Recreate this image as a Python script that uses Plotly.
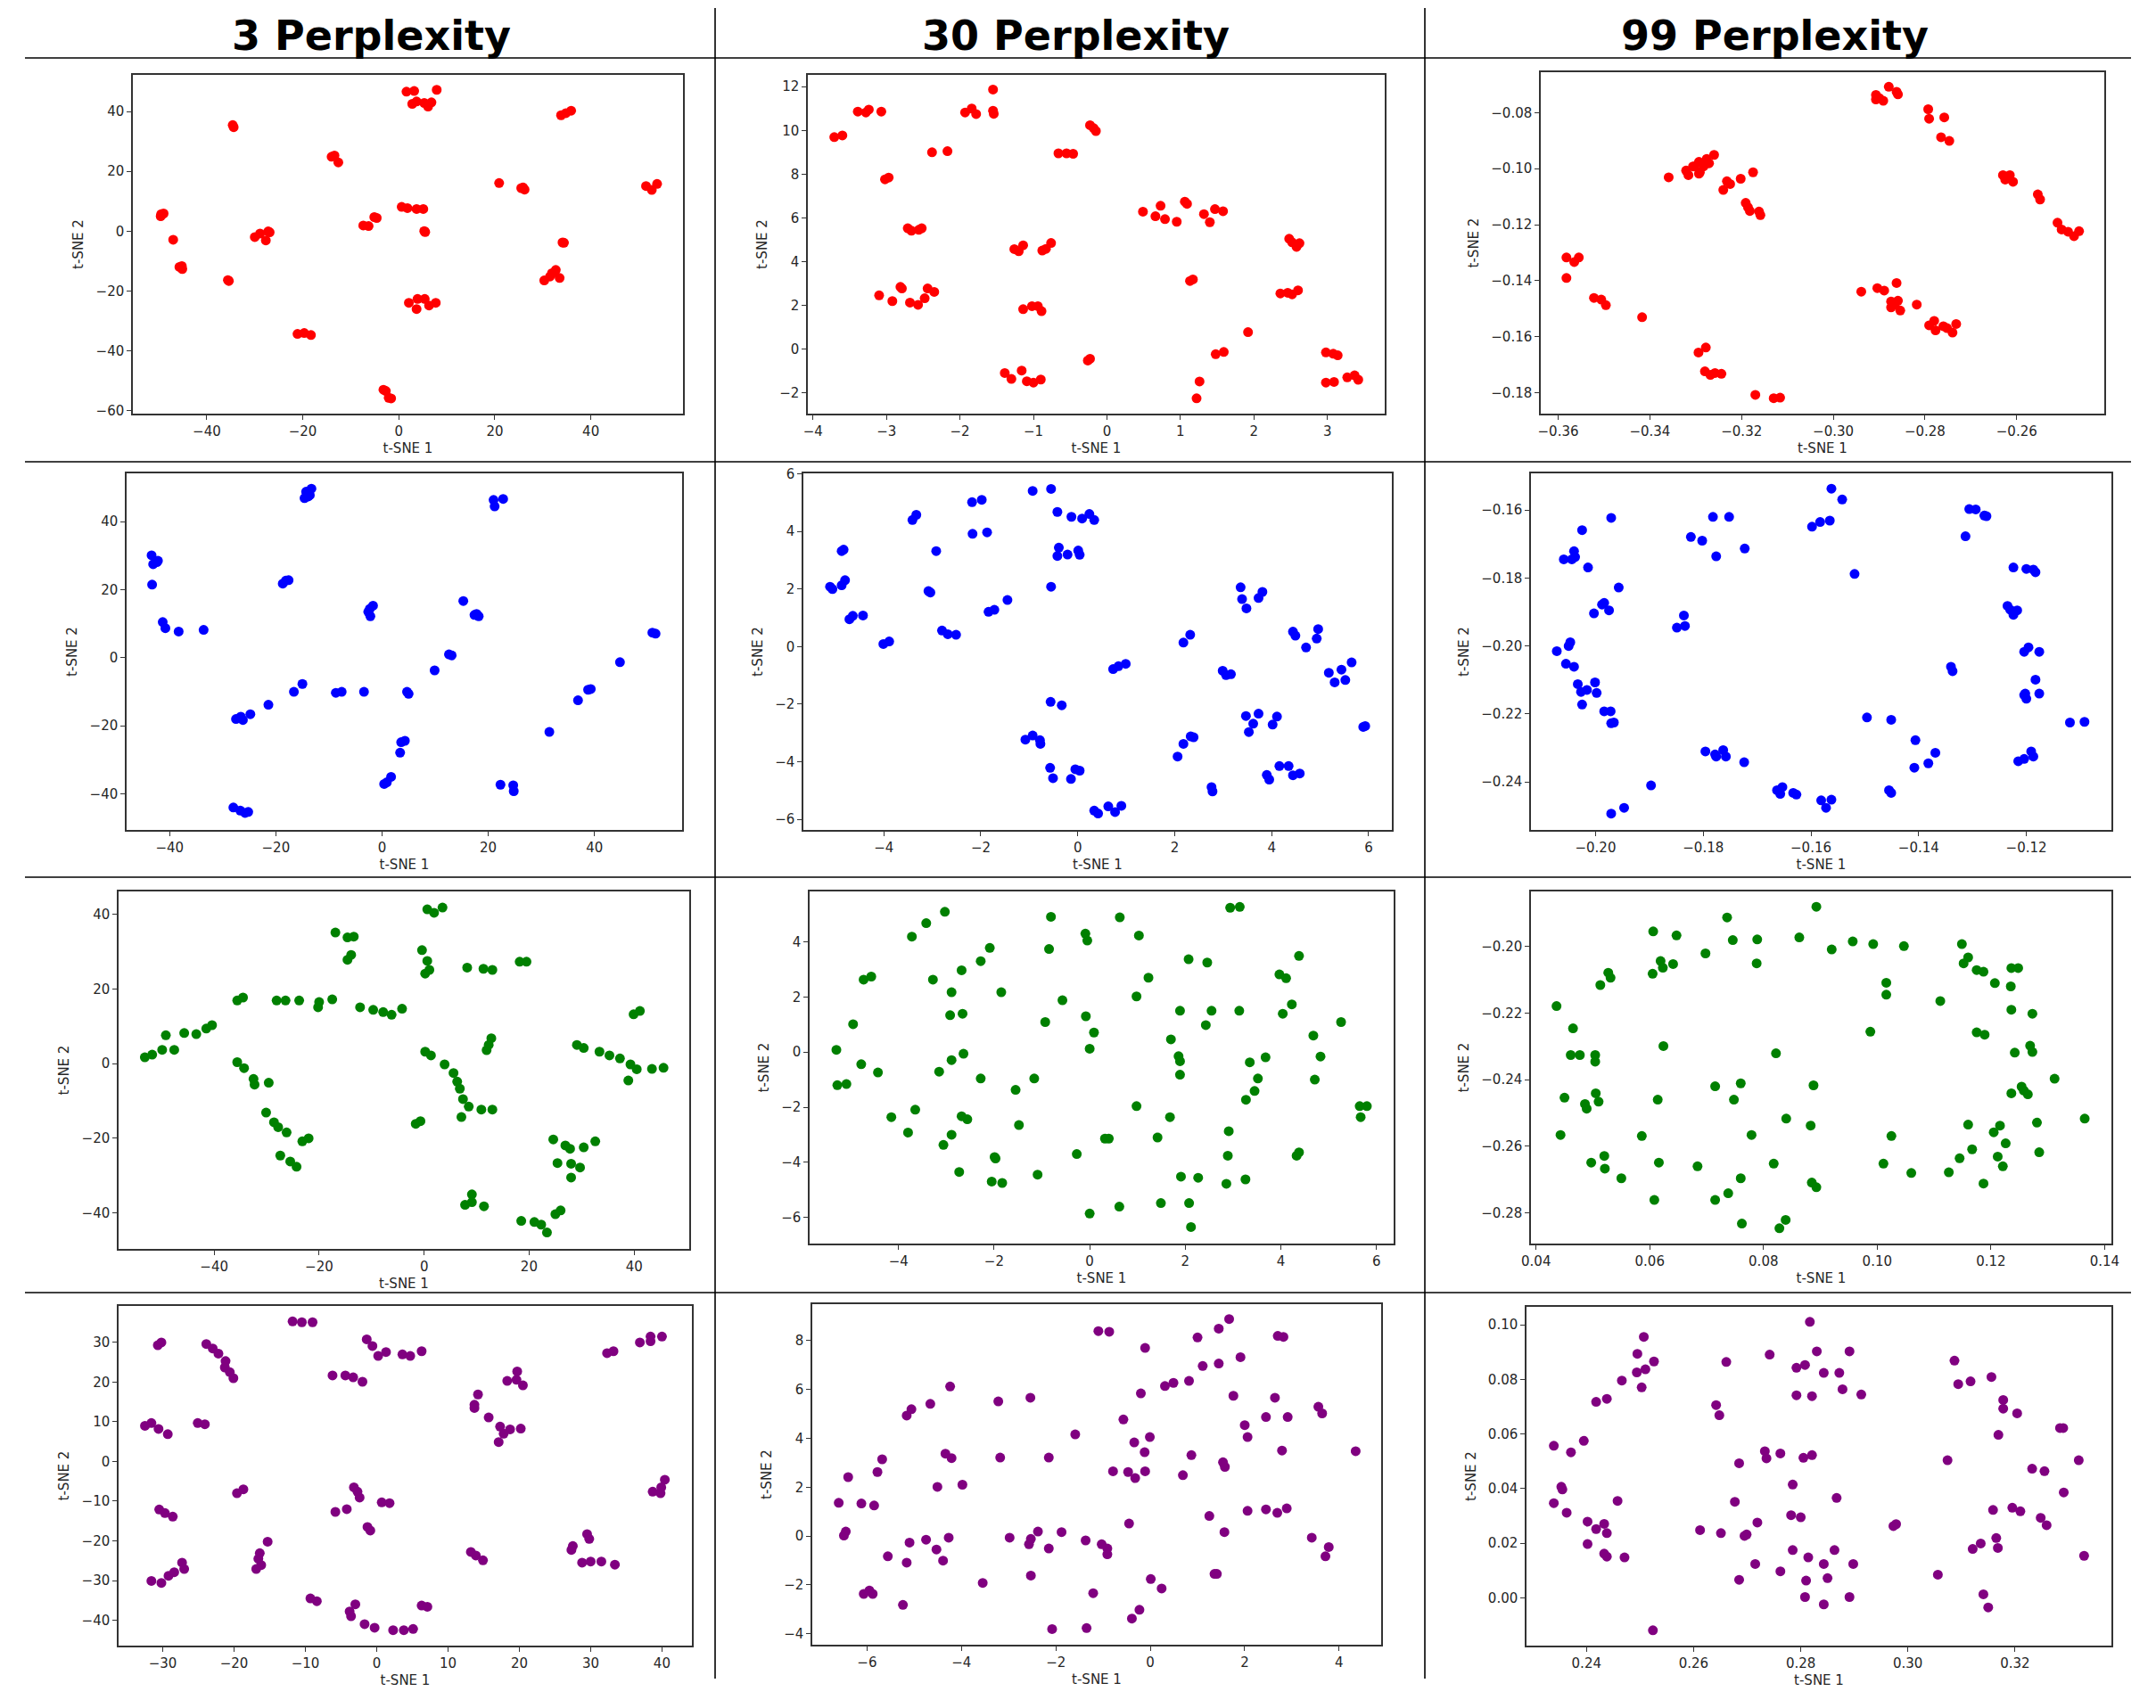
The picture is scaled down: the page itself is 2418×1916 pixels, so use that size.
import plotly.graph_objects as go

# ---------------- data ----------------
col_titles = ["3 Perplexity", "30 Perplexity", "99 Perplexity"]
x_label = "t-SNE 1"
y_label = "t-SNE 2"

red_p3_x = [1.6, 3.2, 7.9, 2.8, 3.7, 5.3, 6.1, 6.8, 33.8, 34.8, 35.9, -34.6, -34.4, -14.0, -13.4, -12.6, 20.9,
            25.5, 26.2, 25.9, 51.5, 52.7, 53.8, -49.5, -49.0, -49.6, -47.0, -45.7, -45.2, -45.1, -35.6, -35.4,
            -30.0, -28.9, -27.2, -27.7, -26.9, 0.6, 1.8, 3.7, 5.1, 5.3, 5.5, -7.4, -6.3, -5.1, -4.6, 34.4, 34.1,
            30.3, 31.5, 32.7, 33.5, 31.9, 2.1, 3.9, 5.4, 3.7, 6.3, 7.7, -21.1, -19.7, -18.3, -3.2, -2.1, -2.7, -1.6]
red_p3_y = [46.7, 46.9, 47.3, 42.6, 43.4, 42.9, 41.7, 43.1, 38.8, 39.5, 40.3, 35.5, 34.8, 24.9, 25.3, 23.0, 16.1,
            14.4, 13.9, 14.6, 15.1, 13.8, 15.8, 5.7, 5.9, 5.0, -2.9, -12.0, -11.7, -12.7, -16.4, -16.7,
            -2.0, -0.8, -0.1, -3.1, -0.4, 8.1, 7.7, 7.4, 7.4, 0.0, -0.3, 1.9, 1.7, 4.7, 4.4, -3.9, -3.8,
            -16.5, -15.2, -13.0, -15.7, -14.1, -24.0, -22.7, -22.7, -26.1, -24.9, -24.0, -34.4, -34.1, -34.8,
            -53.1, -55.8, -53.5, -56.0]

red_p30_x = [-3.71, -3.60, -3.39, -3.28, -3.24, -3.07, -1.55, -1.93, -1.84, -1.78, -1.55, -1.54, -0.23, -0.18, -0.15,
             -2.38, -2.17, -0.66, -0.55, -0.46, -3.02, -2.97, -2.71, -2.66, -2.52, -2.56, -1.26, -1.20, -1.14, -0.88,
             -0.83, -0.76, 0.49, 0.66, 0.73, 0.79, 0.95, 1.06, 1.09, 1.32, 1.40, 1.47, 1.58, 2.48, 2.52, 2.58, 2.62,
             1.13, 1.17, 2.36, 2.46, 2.52, 2.60, -2.81, -2.79, -3.10, -2.92, -2.68, -2.57, -2.48, -2.44, -2.35,
             -1.14, -1.02, -0.94, -0.89, 1.92, -0.26, -0.23, 1.48, 1.59, 2.98, 3.08, 3.14, -1.39, -1.30, -1.16,
             -1.09, -1.00, -0.90, 1.26, 1.22, 2.98, 3.09, 3.27, 3.37, 3.42]
red_p30_y = [9.69, 9.77, 10.86, 10.82, 10.95, 10.86, 11.87, 10.82, 11.00, 10.75, 10.90, 10.76, 10.24, 10.10, 9.97,
             9.00, 9.05, 8.95, 8.95, 8.93, 7.76, 7.84, 5.52, 5.41, 5.52, 5.45, 4.57, 4.47, 4.74, 4.50,
             4.58, 4.85, 6.28, 6.07, 6.55, 5.94, 5.82, 6.74, 6.64, 6.17, 5.80, 6.40, 6.30, 5.04, 4.88, 4.67, 4.84,
             3.11, 3.18, 2.54, 2.57, 2.50, 2.68, 2.84, 2.77, 2.45, 2.19, 2.12, 2.02, 2.32, 2.77, 2.61,
             1.82, 1.96, 1.96, 1.73, 0.77, -0.53, -0.45, -0.24, -0.14, -0.16, -0.22, -0.29, -1.10, -1.37, -0.99,
             -1.48, -1.54, -1.40, -1.49, -2.26, -1.54, -1.51, -1.30, -1.21, -1.41]

red_p99_x = [-0.2907, -0.2900, -0.2891, -0.2879, -0.2862, -0.2859, -0.2907, -0.2793, -0.2791, -0.2758, -0.2765,
             -0.2747, -0.2630, -0.2620, -0.2608, -0.2615, -0.2625, -0.2554, -0.2549, -0.2511, -0.2502, -0.2488,
             -0.2475, -0.2464, -0.3359, -0.3321, -0.3316, -0.3306, -0.3293, -0.3291, -0.3283, -0.3276, -0.3271,
             -0.3260, -0.3293, -0.3303, -0.3240, -0.3232, -0.3225, -0.3202, -0.3175, -0.3191, -0.3186, -0.3182,
             -0.3162, -0.3159, -0.3582, -0.3565, -0.3555, -0.3582, -0.3522, -0.3506, -0.3496, -0.3417, -0.3294,
             -0.3278, -0.3280, -0.3268, -0.3258, -0.3244, -0.3170, -0.3130, -0.3116, -0.2939, -0.2904, -0.2889,
             -0.2862, -0.2874, -0.2874, -0.2859, -0.2854, -0.2866, -0.2818, -0.2791, -0.2780, -0.2777, -0.2760,
             -0.2740, -0.2732, -0.2752]
red_p99_y = [-0.0737, -0.0748, -0.0758, -0.0708, -0.0726, -0.0735, -0.0753, -0.0788, -0.0822, -0.0817, -0.0888,
             -0.0901, -0.1023, -0.1034, -0.1047, -0.1023, -0.1039, -0.1092, -0.1110, -0.1193, -0.1217, -0.1225,
             -0.1241, -0.1223, -0.1031, -0.1007, -0.1023, -0.0992, -0.0976, -0.1013, -0.0992, -0.0965, -0.0981,
             -0.0951, -0.1018, -0.0992, -0.1076, -0.1045, -0.1055, -0.1036, -0.1013, -0.1122, -0.1138, -0.1151,
             -0.1153, -0.1166, -0.1317, -0.1333, -0.1317, -0.1390, -0.1461, -0.1467, -0.1487, -0.1530, -0.1656,
             -0.1638, -0.1723, -0.1736, -0.1729, -0.1732, -0.1807, -0.1819, -0.1817, -0.1439, -0.1426, -0.1435,
             -0.1408, -0.1474, -0.1495, -0.1471, -0.1506, -0.1485, -0.1485, -0.1559, -0.1543, -0.1577, -0.1562,
             -0.1585, -0.1554, -0.1569]

blue_p3_x = [-14.6, -14.3, -13.6, -13.3, -13.9, 21.0, 21.2, 22.8, -43.4, -43.1, -42.4, -42.2, -43.3, -41.3, -40.8,
             -38.3, -33.6, -18.7, -18.1, -17.6, -2.6, -2.2, -1.7, -2.3, 15.3, 17.4, 18.2, 17.8, 50.9, 51.5, 12.6,
             13.1, 9.9, 44.8, 36.9, 38.8, 39.3, 31.5, -15.0, -16.6, -8.7, -7.6, -3.4, 4.7, 5.0, -21.4, -27.5, -26.6,
             -26.2, -24.8, 3.6, 4.3, 3.4, 0.4, 0.9, 1.7, 22.3, 24.7, 24.8, -28.0, -26.7, -25.8, -25.2]
blue_p3_y = [46.9, 48.8, 47.8, 49.7, 47.4, 46.4, 44.5, 46.7, 30.1, 27.5, 28.1, 28.5, 21.5, 10.5, 8.7,
             7.7, 8.2, 21.8, 22.7, 22.8, 13.5, 12.2, 15.3, 14.4, 16.7, 12.6, 12.2, 12.9, 7.4, 7.1, 1.0,
             0.7, -3.7, -1.3, -12.5, -9.4, -9.2, -21.8, -7.7, -10.0, -10.3, -10.0, -10.0, -10.0, -10.6, -13.8, -18.0,
             -17.3, -18.3, -16.6, -24.8, -24.4, -27.9, -37.1, -36.6, -35.0, -37.3, -37.5, -39.2, -44.0, -44.9,
             -45.6, -45.3]

blue_p30_x = [-5.11, -5.06, -4.87, -4.80, -4.87, -4.83, -4.71, -4.64, -4.43, -4.01, -3.89, -3.41, -3.33, -2.92,
              -3.08, -3.04, -2.80, -2.68, -2.51, -2.18, -1.98, -2.17, -1.87, -1.84, -1.72, -1.45, -0.93, -0.55,
              -0.42, -0.13, 0.09, 0.24, 0.34, -0.39, -0.42, -0.21, 0.01, 0.04, -0.55, 0.73, 0.84, 0.99, 2.18, 2.32,
              3.36, 3.39, 3.48, 3.73, 3.81, 4.44, 4.49, 4.71, 4.93, 4.96, 2.99, 3.06, 3.16, 5.18, 5.44, 5.65, 5.30,
              5.52, -0.56, -0.33, -1.08, -0.93, -0.78, -0.77, -0.57, -0.51, -0.14, -0.05, 0.04, 0.34, 0.42, 0.63,
              0.77, 0.90, 2.06, 2.18, 2.33, 2.39, 2.76, 2.78, 3.47, 3.53, 3.62, 3.73, 4.02, 4.11, 3.90, 3.95, 4.16,
              4.35, 4.44, 4.58, 5.89, 5.93]
blue_p30_y = [2.08, 2.00, 2.13, 2.31, 3.32, 3.37, 0.95, 1.07, 1.08, 0.09, 0.18, 4.40, 4.58, 3.32,
              1.93, 1.88, 0.56, 0.43, 0.41, 5.02, 5.10, 3.92, 3.97, 1.21, 1.28, 1.62, 5.41, 5.48,
              4.68, 4.51, 4.45, 4.61, 4.40, 3.44, 3.15, 3.20, 3.34, 3.19, 2.08, -0.78, -0.68, -0.60, 0.14, 0.41,
              2.06, 1.65, 1.33, 1.69, 1.90, 0.52, 0.38, -0.03, 0.28, 0.61, -0.84, -0.99, -0.96, -0.91, -0.80, -0.55,
              -1.24, -1.16, -1.92, -2.04, -3.23, -3.09, -3.25, -3.38, -4.21, -4.57, -4.60, -4.26, -4.31, -5.70,
              -5.80, -5.55, -5.75, -5.53, -3.82, -3.38, -3.12, -3.15, -4.88, -5.03, -2.41, -2.97, -2.68, -2.33,
              -2.71, -2.43, -4.46, -4.62, -4.15, -4.15, -4.47, -4.41, -2.79, -2.76]

blue_p99_x = [-0.1562, -0.1542, -0.1598, -0.1583, -0.1565, -0.1519, -0.1306, -0.1294, -0.1278, -0.1274, -0.1313,
              -0.1224, -0.1200, -0.1187, -0.1183, -0.1235, -0.1230, -0.1224, -0.1217, -0.1204, -0.1196, -0.1176,
              -0.1183, -0.1176, -0.1204, -0.1200, -0.1202, -0.1119, -0.1092, -0.1340, -0.1337, -0.1496, -0.1451,
              -0.1406, -0.1369, -0.1382, -0.1408, -0.1215, -0.1204, -0.1191, -0.1187, -0.1455, -0.1451, -0.1581,
              -0.1572, -0.1562, -0.1663, -0.1657, -0.1653, -0.1633, -0.1627, -0.1724, -0.1796, -0.1778, -0.1763,
              -0.1758, -0.1776, -0.1897, -0.1971, -0.1947, -0.1782, -0.1752, -0.1823, -0.1802, -0.1776, -0.1723,
              -0.1836, -0.1849, -0.1834, -0.1971, -0.2025, -0.2059, -0.2044, -0.2040, -0.2038, -0.2014, -0.1957,
              -0.2003, -0.1988, -0.1984, -0.1975, -0.2072, -0.2050, -0.2047, -0.2055, -0.2040, -0.2033, -0.2027,
              -0.2016, -0.2001, -0.1998, -0.2025, -0.1984, -0.1972, -0.1971, -0.1966]
blue_p99_y = [-0.1537, -0.1569, -0.1649, -0.1635, -0.1631, -0.1788, -0.1597, -0.1598, -0.1616, -0.1618, -0.1677,
              -0.1769, -0.1773, -0.1775, -0.1783, -0.1882, -0.1893, -0.1908, -0.1895, -0.2017, -0.2004, -0.2017,
              -0.2099, -0.2140, -0.2144, -0.2155, -0.2140, -0.2225, -0.2223, -0.2061, -0.2074, -0.2210, -0.2217,
              -0.2277, -0.2314, -0.2345, -0.2358, -0.2339, -0.2332, -0.2310, -0.2325, -0.2424, -0.2432, -0.2454,
              -0.2476, -0.2452, -0.2424, -0.2435, -0.2415, -0.2432, -0.2437, -0.2342, -0.2310, -0.2319, -0.2306,
              -0.2325, -0.2325, -0.2410, -0.2493, -0.2476, -0.1620, -0.1620, -0.1679, -0.1690, -0.1736, -0.1713,
              -0.1910, -0.1946, -0.1941, -0.1623, -0.1659, -0.1745, -0.1745, -0.1721, -0.1738, -0.1769, -0.1828,
              -0.1904, -0.1878, -0.1873, -0.1895, -0.2015, -0.2000, -0.1989, -0.2052, -0.2061, -0.2112, -0.2135,
              -0.2129, -0.2107, -0.2138, -0.2172, -0.2192, -0.2192, -0.2227, -0.2225]

green_p3_x = [0.6, 1.9, 3.5, -16.9, -14.6, -13.4, -14.6, -13.9, -0.4, 0.6, 1.0, 0.2, 8.2, 11.3, 13.0, 18.2, 19.5,
              -35.6, -34.5, -28.1, -26.4, -23.8, -20.2, -20.0, -17.5, -12.2, -9.7, -7.8, -6.2, -4.2, -53.2, -51.8,
              -49.9, -47.6, -49.2, -45.7, -43.4, -41.5, -40.4, -35.6, -34.3, -32.5, -32.3, -29.6, -30.1, -28.6,
              -27.8, -26.2, -23.2, -22.0, -27.4, -25.5, -24.3, 0.2, 1.3, 3.9, 5.6, 6.3, 6.8, 7.4, 8.5, 7.1, 10.9,
              13.0, 11.9, 12.3, 12.8, -1.6, -0.7, 39.9, 41.1, 29.1, 30.4, 33.4, 35.3, 37.3, 39.3, 40.5, 43.4, 45.6,
              38.9, 24.6, 26.9, 27.8, 30.4, 32.6, 25.4, 28.0, 29.7, 28.0, 9.1, 7.8, 9.1, 11.4, 18.5, 21.0, 22.3,
              23.4, 25.0, 26.0]
green_p3_y = [41.3, 40.4, 41.8, 35.1, 33.8, 34.0, 27.8, 29.1, 30.4, 27.5, 25.1, 24.1, 25.7, 25.4, 25.1, 27.3, 27.3,
              16.9, 17.7, 16.9, 16.9, 16.9, 15.1, 16.5, 17.2, 15.1, 14.4, 13.8, 13.1, 14.7, 1.7, 2.4,
              3.7, 3.7, 7.6, 8.2, 7.9, 9.4, 10.3, 0.4, -1.2, -4.1, -5.6, -5.1, -13.1, -15.7,
              -17.0, -18.4, -20.8, -20.0, -24.6, -26.2, -27.6, 3.2, 2.2, -0.2, -2.5, -4.8, -6.7, -9.5, -11.5, -14.3,
              -12.3, -12.3, 3.6, 5.0, 6.8, -16.1, -15.4, 13.2, 14.1, 5.0, 4.2, 3.2, 2.2, 1.4, -0.2, -1.5, -1.4,
              -1.1, -4.5, -20.3, -21.9, -22.8, -22.4, -20.8, -26.6, -26.8, -27.8, -30.5, -35.0, -37.8, -37.1, -38.2,
              -42.1, -42.4, -43.1, -45.2, -40.3, -39.3]

green_p30_x = [-3.03, -3.42, -3.72, -0.81, 0.63, 2.94, 3.14, -0.09, -0.05, 1.03, -2.09, -2.28, -2.68, -0.85, 2.07,
               2.46, 4.38, -4.73, -4.57, -3.28, 1.23, 3.97, 4.11, -2.89, -1.85, -0.57, 0.98, 1.89, 2.55, 3.13, 4.23,
               4.04, -2.92, -2.66, -0.08, -4.95, -0.93, 2.43, 5.26, 0.09, 4.68, 1.70, -5.30, 0.00, -2.64, -2.89,
               1.86, 1.89, 3.68, 3.35, 4.83, -4.78, -4.43, -3.15, -2.28, -1.16, 1.89, 3.52, 4.71, -5.28, -5.09,
               -1.55, 3.45, 3.27, 0.98, 5.65, 5.80, 5.67, -3.65, -4.15, -2.68, -2.56, -1.48, 1.68, -3.80, -2.89,
               2.91, 0.32, 0.40, 1.42, -3.06, -0.27, -1.99, -1.97, 2.89, 4.33, 4.38, -2.73, -1.09, -2.05, -1.83,
               1.91, 2.27, 2.86, 3.26, 0.62, 1.49, 2.08, 0.00, 2.12]
green_p30_y = [5.09, 4.68, 4.19, 4.91, 4.89, 5.24, 5.27, 4.30, 4.05, 4.23, 3.78, 3.30, 2.97, 3.74, 3.37,
               3.25, 3.49, 2.63, 2.74, 2.63, 2.70, 2.82, 2.68, 2.17, 2.17, 1.88, 2.02, 1.50, 1.50, 1.50, 1.73,
               1.39, 1.34, 1.39, 1.30, 1.01, 1.09, 0.98, 1.09, 0.71, 0.60, 0.46, 0.08, 0.12, -0.06, -0.29,
               -0.15, -0.33, -0.19, -0.37, -0.16, -0.44, -0.74, -0.71, -0.96, -0.96, -0.82, -0.96, -1.00, -1.20,
               -1.16, -1.37, -1.41, -1.73, -1.96, -1.96, -1.96, -2.36, -2.09, -2.36, -2.33, -2.44, -2.65, -2.36,
               -2.92, -3.00, -2.87, -3.14, -3.14, -3.10, -3.37, -3.70, -3.81, -3.86, -3.76, -3.76, -3.64, -4.35,
               -4.45, -4.70, -4.75, -4.52, -4.56, -4.78, -4.62, -5.61, -5.48, -5.48, -5.86, -6.35]

green_p99_x = [0.0893, 0.0736, 0.0606, 0.0647, 0.0746, 0.0789, 0.0863, 0.0698, 0.0920, 0.0957, 0.0993, 0.1047,
               0.0619, 0.0623, 0.0641, 0.0788, 0.0605, 0.0527, 0.0531, 0.0513, 0.1149, 0.1160, 0.1152, 0.1175,
               0.1187, 0.1207, 0.1236, 0.1248, 0.1235, 0.1016, 0.1016, 0.1111, 0.0436, 0.0465, 0.0988, 0.1236,
               0.1273, 0.1175, 0.1189, 0.0624, 0.0461, 0.0477, 0.0504, 0.0504, 0.0822, 0.1242, 0.1269, 0.1273,
               0.1312, 0.0715, 0.0760, 0.0888, 0.1236, 0.1254, 0.1258, 0.1265, 0.0450, 0.0486, 0.0489, 0.0505,
               0.0510, 0.0614, 0.0748, 0.0840, 0.0883, 0.1160, 0.1216, 0.1205, 0.1281, 0.1365, 0.0443, 0.0586,
               0.0779, 0.1025, 0.1226, 0.1285, 0.1167, 0.0520, 0.0497, 0.0521, 0.1145, 0.1212, 0.1221, 0.0616,
               0.0684, 0.0818, 0.1011, 0.1060, 0.1126, 0.0550, 0.0760, 0.0885, 0.0893, 0.1187, 0.0608, 0.0715,
               0.0738, 0.0762, 0.0828, 0.0839]
green_p99_y = [-0.1881, -0.1913, -0.1955, -0.1967, -0.1981, -0.1979, -0.1973, -0.2021, -0.2009, -0.1985, -0.1993,
               -0.1999, -0.2044, -0.2064, -0.2053, -0.2051, -0.2082, -0.2079, -0.2094, -0.2116, -0.1993, -0.2033,
               -0.2051, -0.2071, -0.2076, -0.2110, -0.2065, -0.2065, -0.2120, -0.2109, -0.2145, -0.2164, -0.2179,
               -0.2246, -0.2256, -0.2190, -0.2202, -0.2258, -0.2265, -0.2299, -0.2326, -0.2326, -0.2326, -0.2346,
               -0.2321, -0.2319, -0.2298, -0.2317, -0.2397, -0.2420, -0.2411, -0.2417, -0.2441, -0.2421, -0.2433,
               -0.2444, -0.2454, -0.2473, -0.2487, -0.2441, -0.2466, -0.2460, -0.2460, -0.2517, -0.2538, -0.2535,
               -0.2538, -0.2558, -0.2529, -0.2517, -0.2566, -0.2569, -0.2566, -0.2569, -0.2591, -0.2618, -0.2609,
               -0.2629, -0.2649, -0.2667, -0.2636, -0.2631, -0.2660, -0.2649, -0.2660, -0.2652, -0.2652, -0.2680,
               -0.2678, -0.2696, -0.2696, -0.2709, -0.2723, -0.2712, -0.2761, -0.2761, -0.2741, -0.2832, -0.2846,
               -0.2821]

purple_p3_x = [-11.8, -10.5, -9.0, -30.7, -30.2, -23.9, -23.0, -22.2, -21.2, -21.3, -20.6, -20.1, -1.4, -0.6, 0.2,
               1.3, 3.6, 4.7, 6.3, -6.2, -4.4, -3.3, -2.0, 32.3, 33.2, 36.9, 38.4, 38.4, 40.0, 18.3, 19.6, 19.7,
               20.5, 14.2, 13.7, 13.7, 15.7, 17.3, 18.7, 20.2, 17.8, 17.1, -32.5, -31.6, -30.6, -29.3, -25.1, -24.1,
               -19.6, -18.7, -3.2, -2.7, -2.4, 0.7, 1.8, -5.8, -4.2, -1.3, -0.9, -30.5, -29.7, -28.6, -15.3, -16.4,
               -16.6, -16.2, -16.9, -27.3, -27.0, -28.4, -29.2, -31.6, -30.2, 13.2, 13.9, 14.9, 27.5, 27.3, 29.5,
               29.8, 28.8, 30.0, 31.5, 33.4, 38.7, 39.8, 39.9, 40.4, -9.3, -8.4, -3.0, -3.8, -3.6, -1.7, -0.3, 2.3,
               3.8, 5.1, 6.3, 7.1]
purple_p3_y = [35.3, 35.1, 35.1, 29.3, 30.0, 29.6, 28.5, 27.2, 25.3, 23.7, 22.5, 21.0, 30.8, 29.1, 26.6,
               27.6, 27.0, 26.6, 27.8, 21.7, 21.7, 21.2, 20.1, 27.3, 27.8, 30.0, 31.5, 30.3, 31.5, 20.3, 20.6, 22.7,
               19.2, 16.9, 14.3, 13.5, 11.1, 8.8, 8.1, 8.3, 7.0, 4.9, 9.0, 9.7, 8.2, 6.9, 9.7, 9.4,
               -8.0, -7.0, -6.5, -7.6, -9.1, -10.3, -10.5, -12.7, -12.0, -16.5, -17.4, -12.1, -13.0, -13.9, -20.2,
               -23.1, -24.5, -26.1, -27.1, -25.5, -27.1, -27.9, -28.8, -30.1, -30.6, -22.8, -23.7, -24.9, -21.3,
               -22.3, -18.3, -19.5, -25.5, -25.2, -25.2, -26.0, -7.6, -8.0, -6.5, -4.6, -34.5, -35.2, -36.0, -37.8,
               -39.0, -41.0, -41.9, -42.5, -42.5, -42.2, -36.3, -36.6]

purple_p30_x = [-1.10, -0.87, -0.11, 1.00, 1.45, 1.67, 2.70, 2.82, 1.11, 1.45, 1.91, 0.31, 0.49, 0.82, -0.20, 1.76,
                2.64, 3.56, 3.64, 2.45, 2.91, 2.00, 2.06, 2.79, 4.35, -0.57, -0.34, -0.12, -0.01, -1.59, 0.87, 1.54,
                1.58, -0.79, -0.47, -0.32, -0.11, 0.69, -4.24, -4.66, -5.16, -5.06, -3.22, -2.54, -5.68, -6.40,
                -5.78, -4.34, -4.21, -3.18, -2.15, -4.51, -3.98, -6.60, -6.12, -5.85, -6.49, -6.45, -5.10, -4.75,
                -4.53, -4.39, -4.27, -5.56, -5.16, -2.98, -2.57, -2.53, -2.38, -2.15, -1.88, -1.37, -1.03, -0.91,
                -0.91, -0.45, -2.53, -3.55, -6.07, -5.95, -5.88, -5.24, -1.21, 0.01, 0.24, -0.23, -0.39, -2.08,
                -1.35, 1.25, 1.57, 1.36, 1.41, 2.06, 2.45, 2.69, 2.89, 3.42, 3.78, 3.71]
purple_p30_y = [8.39, 8.36, 7.70, 8.13, 8.49, 8.88, 8.19, 8.15, 6.96, 7.06, 7.32, 6.14, 6.27, 6.35, 5.84, 5.74,
                5.66, 5.29, 5.02, 4.87, 4.87, 4.54, 4.05, 3.50, 3.47, 4.77, 3.83, 3.43, 4.05, 4.16, 3.31, 3.02,
                2.83, 2.65, 2.62, 2.37, 2.65, 2.49, 6.12, 5.41, 4.93, 5.19, 5.51, 5.66, 3.14, 2.41,
                2.62, 3.37, 3.19, 3.21, 3.21, 2.01, 2.10, 1.36, 1.33, 1.25, 0.02, 0.18, -0.27, -0.15,
                -0.55, -1.01, -0.07, -0.83, -1.09, -0.07, -0.34, -0.12, 0.18, -0.51, 0.16, -0.18, -0.34, -0.51,
                -0.75, 0.51, -1.62, -1.92, -2.37, -2.23, -2.37, -2.82, -2.34, -1.76, -2.15, -3.02, -3.38, -3.81,
                -3.77, 0.82, 0.16, -1.55, -1.55, 1.03, 1.09, 0.95, 1.13, -0.07, -0.45, -0.83]

purple_p99_x = [0.2817, 0.2507, 0.2495, 0.2526, 0.2494, 0.2510, 0.2503, 0.2466, 0.2418, 0.2438, 0.2661, 0.2742,
                0.2792, 0.2808, 0.2830, 0.2843, 0.2872, 0.2891, 0.2878, 0.2913, 0.2792, 0.2821, 0.2642, 0.2648,
                0.3087, 0.3094, 0.3117, 0.3156, 0.3178, 0.3178, 0.3204, 0.3169, 0.3284, 0.3290, 0.3074, 0.3232,
                0.3255, 0.3319, 0.3291, 0.3159, 0.3195, 0.3210, 0.3248, 0.3259, 0.3165, 0.3168, 0.3121, 0.3136,
                0.3329, 0.3056, 0.3141, 0.3150, 0.2973, 0.2978, 0.2339, 0.2371, 0.2395, 0.2353, 0.2355, 0.2339,
                0.2363, 0.2458, 0.2402, 0.2418, 0.2433, 0.2438, 0.2402, 0.2433, 0.2438, 0.2471, 0.2524, 0.2733,
                0.2736, 0.2762, 0.2805, 0.2821, 0.2685, 0.2785, 0.2677, 0.2867, 0.2782, 0.2800, 0.2612, 0.2651,
                0.2695, 0.2699, 0.2719, 0.2785, 0.2814, 0.2863, 0.2715, 0.2762, 0.2843, 0.2898, 0.2685, 0.2810,
                0.2850, 0.2808, 0.2891, 0.2843]
purple_p99_y = [0.1011, 0.0956, 0.0894, 0.0866, 0.0826, 0.0837, 0.0771, 0.0796, 0.0718, 0.0729, 0.0864, 0.0891,
                0.0843, 0.0853, 0.0903, 0.0824, 0.0824, 0.0903, 0.0764, 0.0745, 0.0742, 0.0739, 0.0706, 0.0669,
                0.0869, 0.0783, 0.0793, 0.0809, 0.0725, 0.0693, 0.0676, 0.0597, 0.0622, 0.0622, 0.0504, 0.0473,
                0.0464, 0.0504, 0.0386, 0.0322, 0.0330, 0.0317, 0.0293, 0.0266, 0.0219, 0.0183, 0.0179, 0.0199,
                0.0154, 0.0085, 0.0013, -0.0035, 0.0263, 0.0270, 0.0557, 0.0533, 0.0575, 0.0407, 0.0397, 0.0347,
                0.0312, 0.0355, 0.0279, 0.0252, 0.0271, 0.0237, 0.0197, 0.0162, 0.0151, 0.0148, -0.0119, 0.0537,
                0.0511, 0.0529, 0.0513, 0.0523, 0.0493, 0.0415, 0.0352, 0.0366, 0.0303, 0.0295, 0.0248, 0.0237,
                0.0227, 0.0232, 0.0276, 0.0175, 0.0148, 0.0175, 0.0124, 0.0097, 0.0124, 0.0124, 0.0066, 0.0063,
                0.0072, 0.0003, 0.0003, -0.0024]

# ---------------- panel configuration ----------------
W, H, OFF = 2402, 1900, 8  # page body margin is 8px


def dx(a, b):
    return [(a - OFF) / W, (b - OFF) / W]


def dy(top, bottom):
    return [1 - (bottom - OFF) / H, 1 - (top - OFF) / H]


# (x data, y data, colour, box px [left, right, top, bottom], x range, y range, x tick vals, y tick vals, fmt)
panels = [
    (red_p3_x, red_p3_y, "red", (149, 766, 84, 464), [-55.4, 59.2], [-61.1, 52.3],
     [-40, -20, 0, 20, 40], [-60, -40, -20, 0, 20, 40], None),
    (red_p30_x, red_p30_y, "red", (906, 1553, 84, 464), [-4.07, 3.78], [-2.96, 12.54],
     [-4, -3, -2, -1, 0, 1, 2, 3], [-2, 0, 2, 4, 6, 8, 10, 12], None),
    (red_p99_x, red_p99_y, "red", (1728, 2360, 81, 464), [-0.3638, -0.2409], [-0.1874, -0.0656],
     [-0.36, -0.34, -0.32, -0.30, -0.28, -0.26], [-0.18, -0.16, -0.14, -0.12, -0.10, -0.08], ".2f"),
    (blue_p3_x, blue_p3_y, "blue", (142, 765, 531, 931), [-48.1, 56.5], [-50.6, 54.2],
     [-40, -20, 0, 20, 40], [-40, -20, 0, 20, 40], None),
    (blue_p30_x, blue_p30_y, "blue", (901, 1561, 531, 931), [-5.66, 6.48], [-6.37, 6.02],
     [-4, -2, 0, 2, 4, 6], [-6, -4, -2, 0, 2, 4, 6], None),
    (blue_p99_x, blue_p99_y, "blue", (1717, 2368, 531, 931), [-0.2120, -0.1042], [-0.2541, -0.1492],
     [-0.20, -0.18, -0.16, -0.14, -0.12], [-0.24, -0.22, -0.20, -0.18, -0.16], ".2f"),
    (green_p3_x, green_p3_y, "green", (133, 773, 1000, 1401), [-58.2, 50.5], [-49.6, 46.1],
     [-40, -20, 0, 20, 40], [-40, -20, 0, 20, 40], None),
    (green_p30_x, green_p30_y, "green", (908, 1563, 1000, 1395), [-5.86, 6.36], [-6.95, 5.83],
     [-4, -2, 0, 2, 4, 6], [-6, -4, -2, 0, 2, 4], None),
    (green_p99_x, green_p99_y, "green", (1717, 2368, 1000, 1395), [0.0391, 0.1412], [-0.2892, -0.1835],
     [0.04, 0.06, 0.08, 0.10, 0.12, 0.14], [-0.28, -0.26, -0.24, -0.22, -0.20], ".2f"),
    (purple_p3_x, purple_p3_y, "purple", (133, 776, 1465, 1846), [-36.2, 44.2], [-46.4, 39.2],
     [-30, -20, -10, 0, 10, 20, 30, 40], [-40, -30, -20, -10, 0, 10, 20, 30], None),
    (purple_p30_x, purple_p30_y, "purple", (911, 1549, 1463, 1845), [-7.16, 4.89], [-4.45, 9.49],
     [-6, -4, -2, 0, 2, 4], [-4, -2, 0, 2, 4, 6, 8], None),
    (purple_p99_x, purple_p99_y, "purple", (1712, 2368, 1466, 1846), [0.2288, 0.3380], [-0.0175, 0.1066],
     [0.24, 0.26, 0.28, 0.30, 0.32], [0.00, 0.02, 0.04, 0.06, 0.08, 0.10], ".2f"),
]

fig = go.Figure()
tick_font = dict(family="DejaVu Sans", size=15, color="#262626")
axis_common = dict(showline=True, mirror=True, linecolor="#333333", linewidth=1.5,
                   ticks="outside", ticklen=5, tickwidth=1.2, tickcolor="#333333",
                   showgrid=False, zeroline=False, tickfont=tick_font, automargin=False)

layout_axes = {}
for i, (xs, ys, col, box, xr, yr, xt, yt, fmt) in enumerate(panels, start=1):
    if len(xs) != len(ys):
        print("length mismatch in panel", i, len(xs), len(ys))
    suffix = "" if i == 1 else str(i)
    fig.add_trace(go.Scatter(x=xs, y=ys, mode="markers", xaxis="x" + suffix, yaxis="y" + suffix,
                             marker=dict(color=col, size=11, line=dict(width=0)),
                             showlegend=False, hoverinfo="x+y"))
    l, r, t, b = box
    xa = dict(axis_common, domain=dx(l, r), range=xr, anchor="y" + suffix, tickvals=xt,
              title=dict(text=x_label, font=dict(family="DejaVu Sans", size=15, color="#262626"), standoff=6))
    ya = dict(axis_common, domain=dy(t, b), range=yr, anchor="x" + suffix, tickvals=yt,
              title=dict(text=y_label, font=dict(family="DejaVu Sans", size=15, color="#262626"), standoff=10))
    if fmt:
        xa["tickformat"] = fmt
        ya["tickformat"] = fmt
    layout_axes["xaxis" + suffix] = xa
    layout_axes["yaxis" + suffix] = ya

fig.update_layout(**layout_axes)

# separators
line_style = dict(color="black", width=1.6)
shapes = []
for yy in [65, 518, 984, 1450]:
    y0 = 1 - (yy - OFF) / H
    shapes.append(dict(type="line", xref="paper", yref="paper", x0=(28 - OFF) / W, x1=(2390 - OFF) / W,
                       y0=y0, y1=y0, line=line_style))
for xx in [802, 1598]:
    x0 = (xx - OFF) / W
    shapes.append(dict(type="line", xref="paper", yref="paper", x0=x0, x1=x0,
                       y0=1 - (9 - OFF) / H, y1=1 - (1883 - OFF) / H, line=line_style))

annotations = []
for title, cx in zip(col_titles, [416, 1206, 1990]):
    annotations.append(dict(text=title, x=(cx - OFF) / W, y=1 - (40 - OFF) / H, xref="paper", yref="paper",
                            xanchor="center", yanchor="middle", showarrow=False,
                            font=dict(family="DejaVu Sans", size=46, color="black", weight="bold")))

fig.update_layout(width=W, height=H, margin=dict(l=0, r=0, t=0, b=0), autosize=False,
                  paper_bgcolor="white", plot_bgcolor="white", shapes=shapes, annotations=annotations)

fig.write_html("out.html")
